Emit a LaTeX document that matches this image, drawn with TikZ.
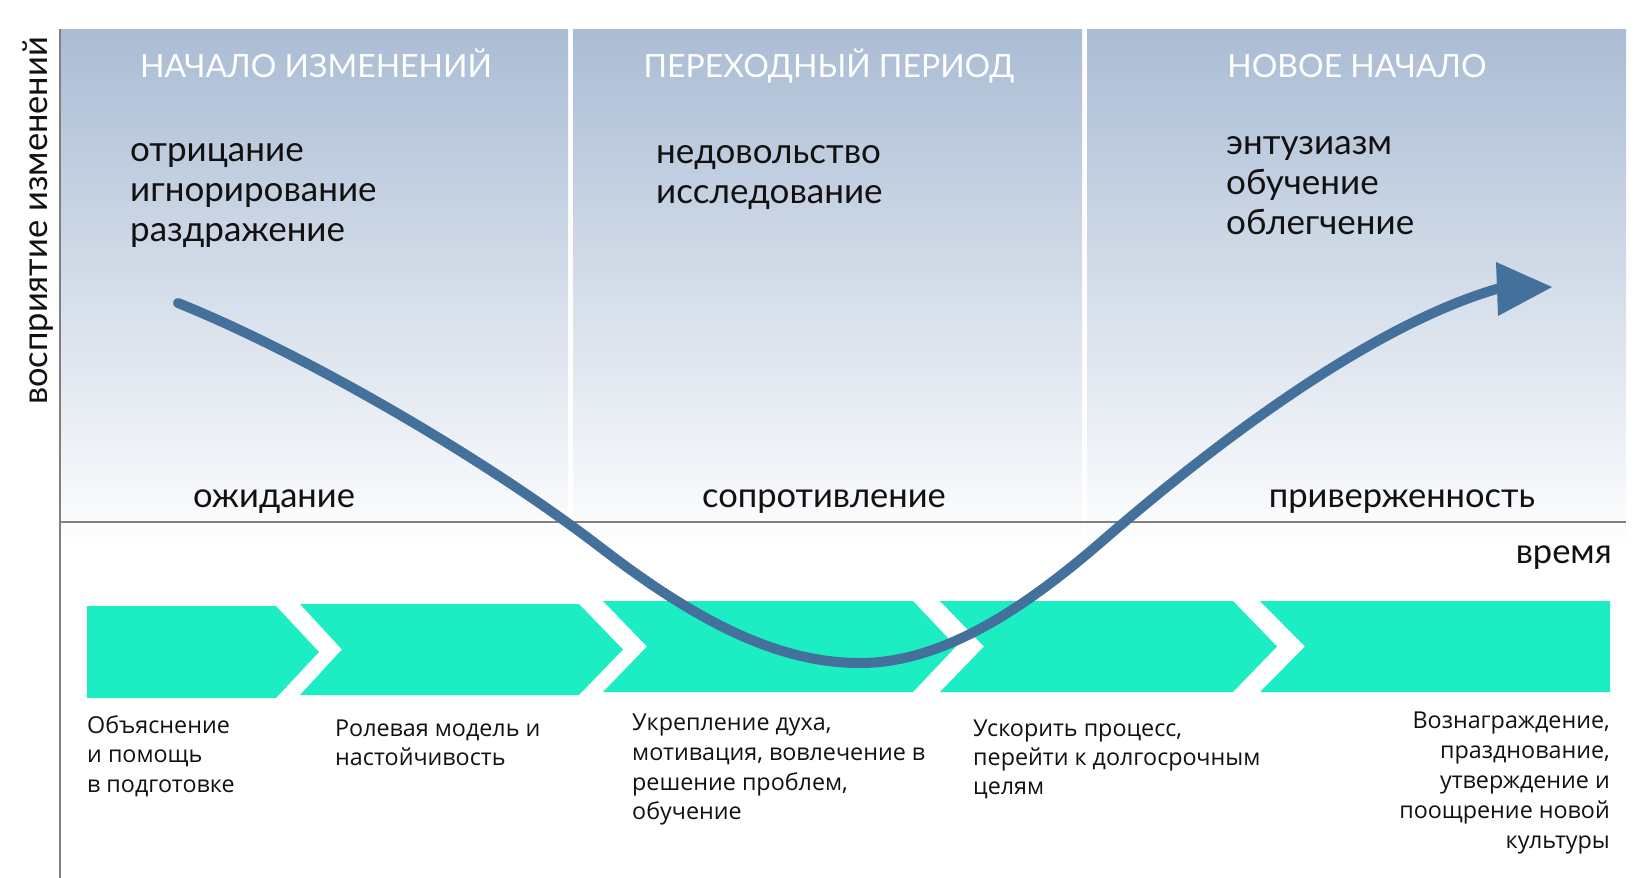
\documentclass[tikz,border=0pt]{standalone}
\usepackage{fontspec}
\setmainfont{Lato}
\newfontfamily\stepfont{Open Sans}
\definecolor{panelTop}{RGB}{170,188,212}
\definecolor{curvec}{RGB}{68,112,156}
\definecolor{tealc}{RGB}{28,237,195}
\definecolor{axisgray}{RGB}{128,128,128}
\definecolor{txt}{RGB}{17,17,17}
\begin{document}
\begin{tikzpicture}[x=1pt,y=-1pt,
  ttl/.style={text=white, font=\fontsize{32}{40}\selectfont, inner sep=0, anchor=base},
  bod/.style={text=txt, font=\fontsize{35}{40}\selectfont, inner sep=0, anchor=base west},
  lvl/.style={text=txt, font=\fontsize{34.5}{40}\selectfont, inner sep=0, anchor=base},
  stp/.style={text=txt, font=\stepfont\fontsize{23.3}{29}\selectfont, inner sep=0, anchor=base west},
  stpr/.style={stp, anchor=base east},
  chev/.style={fill=tealc},
  panel/.style={top color=panelTop, bottom color=white},
  axis/.style={draw=axisgray, line width=2.5pt}
]
\useasboundingbox (0,0) rectangle (1650,878);
\fill[white] (0,0) rectangle (1650,878);

% panels
\shade[panel] (60,29) rectangle (568,550);
\shade[panel] (573,29) rectangle (1082,550);
\shade[panel] (1087,29) rectangle (1626,550);

% axes
\coordinate (ytop) at (60,29);
\coordinate (ybot) at (60,878);
\coordinate (xl) at (60,522);
\coordinate (xr) at (1626,522);
\draw[axis] (ytop) -- (ybot);
\draw[axis] (xl) -- (xr);

% titles
\node[ttl] (t1) at (316,77) {НАЧАЛО ИЗМЕНЕНИЙ};
\node[ttl] (t2) at (829,77) {ПЕРЕХОДНЫЙ ПЕРИОД};
\node[ttl] (t3) at (1357,77) {НОВОЕ НАЧАЛО};

% feelings
\node[bod] (a1) at (130,161) {отрицание};
\node[bod] (a2) at (130,201) {игнорирование};
\node[bod] (a3) at (130,241) {раздражение};
\node[bod] (b1) at (656,163) {недовольство};
\node[bod] (b2) at (656,203) {исследование};
\node[bod] (c1) at (1226,154) {энтузиазм};
\node[bod] (c2) at (1226,194) {обучение};
\node[bod] (c3) at (1226,234) {облегчение};

% levels
\node[lvl] (l1) at (274,507) {ожидание};
\node[lvl] (l2) at (824,507) {сопротивление};
\node[lvl] (l3) at (1402,507) {приверженность};
\node[lvl, anchor=base east] (time) at (1612,563) {время};

% y label
\node[lvl, rotate=90] (ylab) at (47,221) {восприятие изменений};

% chevrons
\fill[chev] (87,606) -- (276,606) -- (319,652) -- (276,698) -- (87,698) -- cycle;
\fill[chev] (300,604) -- (579,604) -- (623,649.5) -- (579,695) -- (300,695) -- (342,649.5) -- cycle;
\fill[chev] (603,601) -- (913,601) -- (956,646.5) -- (913,692) -- (603,692) -- (647,646.5) -- cycle;
\fill[chev] (940,601) -- (1233,601) -- (1277,646.5) -- (1233,692) -- (940,692) -- (984,646.5) -- cycle;
\fill[chev] (1260,601) -- (1610,601) -- (1610,692) -- (1260,692) -- (1305,646.5) -- cycle;

% curve
\coordinate (cs) at (178,303);
\coordinate (c1p) at (600,547);
\coordinate (cmin) at (860,663);
\coordinate (c2p) at (1100,543);
\coordinate (ce) at (1500,288);
\draw[curvec, line width=10pt, line cap=round]
  (cs) .. controls (300,352) and (480,455) .. (c1p)
       .. controls (700,624) and (780,663) .. (cmin)
       .. controls (940,663) and (1020,612) .. (c2p)
       .. controls (1230,430) and (1380,322) .. (ce);
\fill[curvec] (1496,262) -- (1552,287) -- (1498,316) -- cycle;

% step texts
\node[stp] (s1a) at (87,733) {Объяснение};
\node[stp] (s1b) at (87,762.5) {и помощь};
\node[stp] (s1c) at (87,792) {в подготовке};
\node[stp] (s2a) at (335,736) {Ролевая модель и};
\node[stp] (s2b) at (335,765.5) {настойчивость};
\node[stp] (s3a) at (632,730) {Укрепление духа,};
\node[stp] (s3b) at (632,760) {мотивация, вовлечение в};
\node[stp] (s3c) at (632,790) {решение проблем,};
\node[stp] (s3d) at (632,819) {обучение};
\node[stp] (s4a) at (973,736) {Ускорить процесс,};
\node[stp] (s4b) at (973,765.5) {перейти к долгосрочным};
\node[stp] (s4c) at (973,794) {целям};
\node[stpr] (s5a) at (1610,728) {Вознаграждение,};
\node[stpr] (s5b) at (1610,758) {празднование,};
\node[stpr] (s5c) at (1610,788) {утверждение и};
\node[stpr] (s5d) at (1610,818) {поощрение новой};
\node[stpr] (s5e) at (1610,848) {культуры};
\end{tikzpicture}
\end{document}
